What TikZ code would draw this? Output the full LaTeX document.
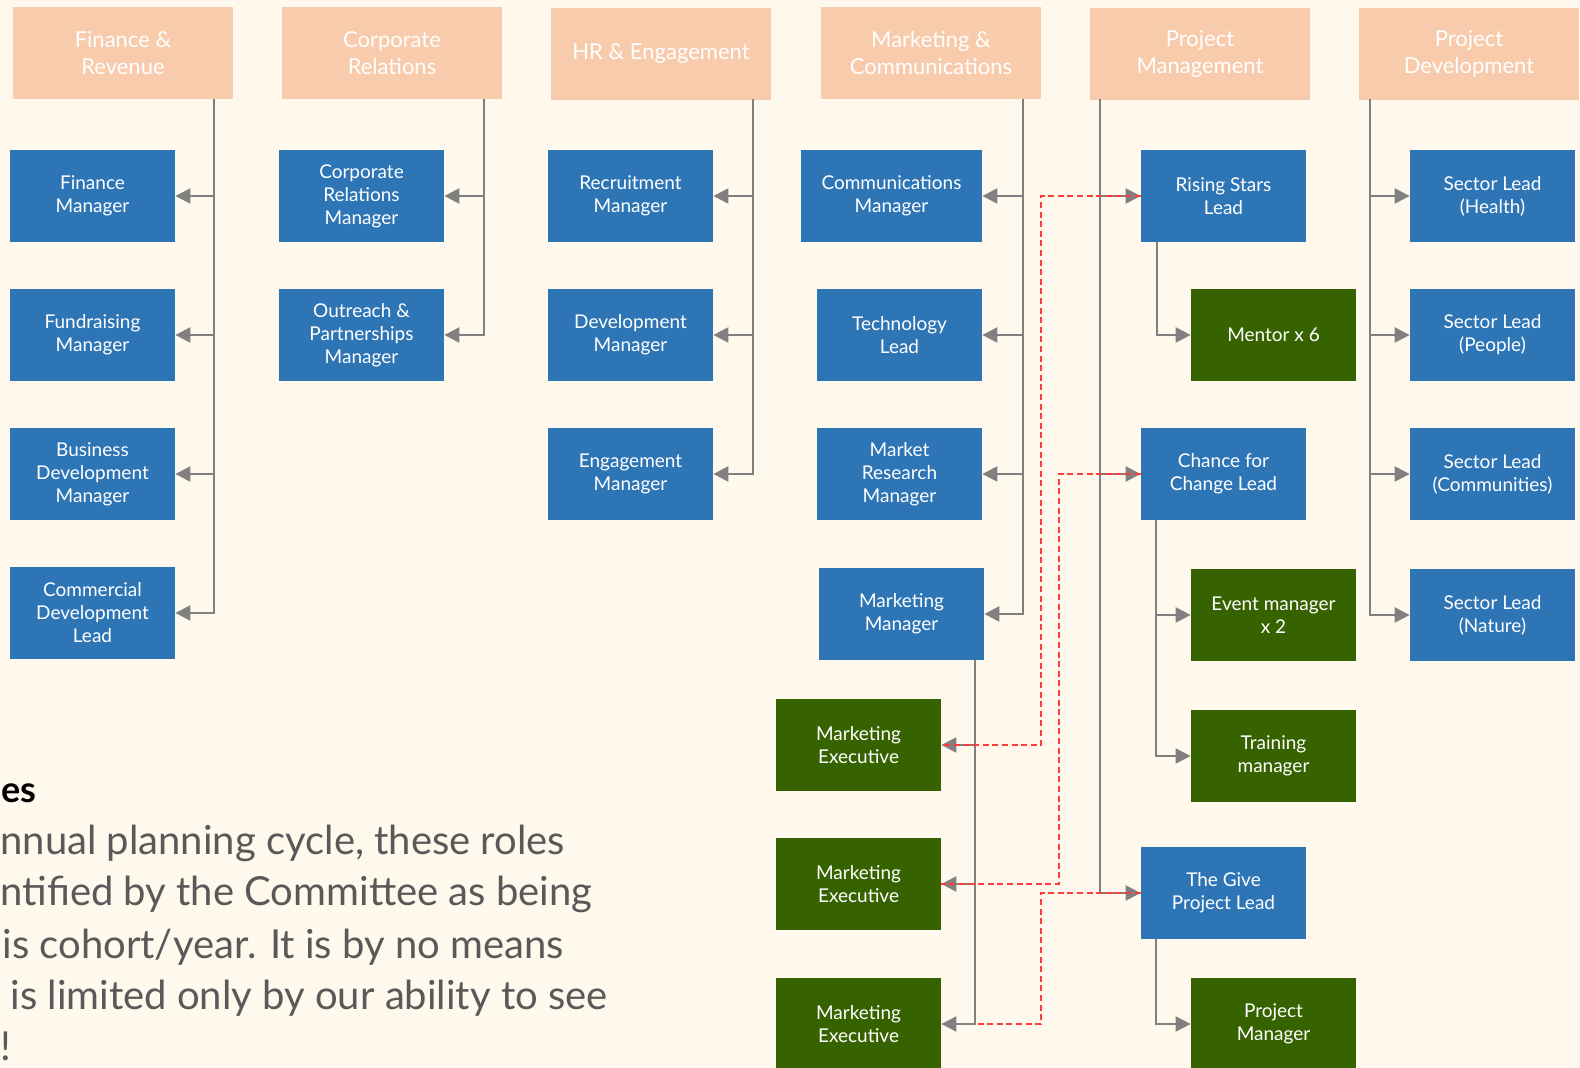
\documentclass[tikz,border=0pt]{standalone}
\usepackage{fontspec}
\setmainfont{Lato}
\usetikzlibrary{arrows.meta}

\definecolor{bgcream}{HTML}{FFF8EC}
\definecolor{peach}{HTML}{F7CBAC}
\definecolor{roleblue}{HTML}{2E75B6}
\definecolor{rolegreen}{HTML}{366300}
\definecolor{linkgrey}{HTML}{808080}
\definecolor{notegrey}{HTML}{595959}
\definecolor{dashred}{HTML}{FF3B3B}

\begin{document}
\begin{tikzpicture}[x=0.5pt,y=-0.5pt,
    head/.style={fill=peach,text=white,minimum width=110pt,minimum height=46pt,
      align=center,inner sep=0pt,font=\fontsize{11}{13.5}\selectfont},
    role/.style={fill=roleblue,text=white,minimum width=82.5pt,minimum height=46pt,
      align=center,inner sep=0pt,font=\fontsize{9.5}{11.5}\selectfont},
    crew/.style={role,fill=rolegreen},
    feed/.style={draw=linkgrey,line width=1.2pt,-{Triangle[length=7.5pt,width=7.5pt]}},
    link/.style={draw=dashred,line width=0.8pt,dash pattern=on 3pt off 1.8pt},
    note/.style={anchor=base west,inner sep=0pt,text=notegrey,font=\fontsize{20}{24}\selectfont}]
  \useasboundingbox (0,0) rectangle (1580,1068);
  \fill[bgcream] (0,0) rectangle (1580,1068);

  % department heads
  \node[head] (fin) at (123,53) {Finance \&\\Revenue};
  \node[head] (corp) at (392,53) {Corporate\\Relations};
  \node[head] (hr) at (661,54) {HR \& Engagement};
  \node[head] (mkt) at (931,53) {Marketing \&\\Communications};
  \node[head] (pman) at (1200,54) {Project\\Management};
  \node[head] (pdev) at (1469,54) {Project\\Development};

  % finance
  \node[role] (fin1) at (92.5,196) {Finance\\Manager};
  \node[role] (fin2) at (92.5,335) {Fundraising\\Manager};
  \node[role] (fin3) at (92.5,474) {Business\\Development\\Manager};
  \node[role] (fin4) at (92.5,613) {Commercial\\Development\\Lead};

  % corporate
  \node[role] (corp1) at (361.5,196) {Corporate\\Relations\\Manager};
  \node[role] (corp2) at (361.5,335) {Outreach \&\\Partnerships\\Manager};

  % hr
  \node[role] (hr1) at (630.5,196) {Recruitment\\Manager};
  \node[role] (hr2) at (630.5,335) {Development\\Manager};
  \node[role] (hr3) at (630.5,474) {Engagement\\Manager};

  % marketing
  \node[role,minimum width=90.5pt] (mkt1) at (891.5,196) {Communications\\Manager};
  \node[role] (mkt2) at (899.5,335) {Technology\\Lead};
  \node[role] (mkt3) at (899.5,474) {Market\\Research\\Manager};
  \node[role] (mkt4) at (901.5,614) {Marketing\\Manager};
  \node[crew] (exec1) at (858.5,745) {Marketing\\Executive};
  \node[crew] (exec2) at (858.5,884) {Marketing\\Executive};
  \node[crew] (exec3) at (858.5,1024) {Marketing\\Executive};

  % project management
  \node[role] (rise) at (1223.5,196) {Rising Stars\\Lead};
  \node[role] (chance) at (1223.5,474) {Chance for\\Change Lead};
  \node[role] (give) at (1223.5,893) {The Give\\Project Lead};
  \node[crew] (mentor) at (1273.5,335) {Mentor x 6};
  \node[crew] (event) at (1273.5,615) {Event manager\\x 2};
  \node[crew] (train) at (1273.5,756) {Training\\manager};
  \node[crew] (proj) at (1273.5,1024) {Project\\Manager};

  % project development
  \node[role] (sec1) at (1492.5,196) {Sector Lead\\(Health)};
  \node[role] (sec2) at (1492.5,335) {Sector Lead\\(People)};
  \node[role] (sec3) at (1492.5,474) {Sector Lead\\(Communities)};
  \node[role] (sec4) at (1492.5,615) {Sector Lead\\(Nature)};

  % trunk points
  \coordinate (finT) at (214,99);
  \coordinate (corpT) at (484,99);
  \coordinate (hrT) at (753,99);
  \coordinate (mktT) at (1023,99);
  \coordinate (pmanT) at (1100,99);
  \coordinate (pdevT) at (1370,99);
  \coordinate (mgrT) at (975,660);
  \coordinate (riseT) at (1157,242);
  \coordinate (chanceT) at (1156,520);
  \coordinate (giveT) at (1156,939);

  \foreach \c in {fin1,fin2,fin3,fin4} \draw[feed] (finT) |- (\c.east);
  \foreach \c in {corp1,corp2} \draw[feed] (corpT) |- (\c.east);
  \foreach \c in {hr1,hr2,hr3} \draw[feed] (hrT) |- (\c.east);
  \foreach \c in {mkt1,mkt2,mkt3,mkt4} \draw[feed] (mktT) |- (\c.east);
  \foreach \c in {exec1,exec2,exec3} \draw[feed] (mgrT) |- (\c.east);
  \foreach \c in {rise,chance,give} \draw[feed] (pmanT) |- (\c.west);
  \foreach \c in {sec1,sec2,sec3,sec4} \draw[feed] (pdevT) |- (\c.west);
  \draw[feed] (riseT) |- (mentor.west);
  \foreach \c in {event,train} \draw[feed] (chanceT) |- (\c.west);
  \draw[feed] (giveT) |- (proj.west);

  % dotted reporting lines
  \coordinate (bendA) at (1041,500);
  \coordinate (bendB) at (1059,700);
  \coordinate (bendC) at (1041,960);
  \coordinate (exec3c) at (975,1024);
  \draw[link] (rise.west) -| (bendA) |- (exec1.east);
  \draw[link] (chance.west) -| (bendB) |- (exec2.east);
  \draw[link] (give.west) -| (bendC) |- (exec3c);

  % note text at the left edge
  \node[note,text=black,font=\bfseries\fontsize{18}{22}\selectfont] (notehead) at (1,803) {es};
  \node[note] (note1) at (0,855) {nnual planning cycle, these roles};
  \node[note] (note2) at (0,906) {ntified by the Committee as being};
  \node[note] (note3) at (2,958) {is cohort/year. It is by no means};
  \node[note] (note4) at (10,1009) {is limited only by our ability to see};
  \node[note] (note5) at (0,1060) {!};
\end{tikzpicture}
\end{document}
